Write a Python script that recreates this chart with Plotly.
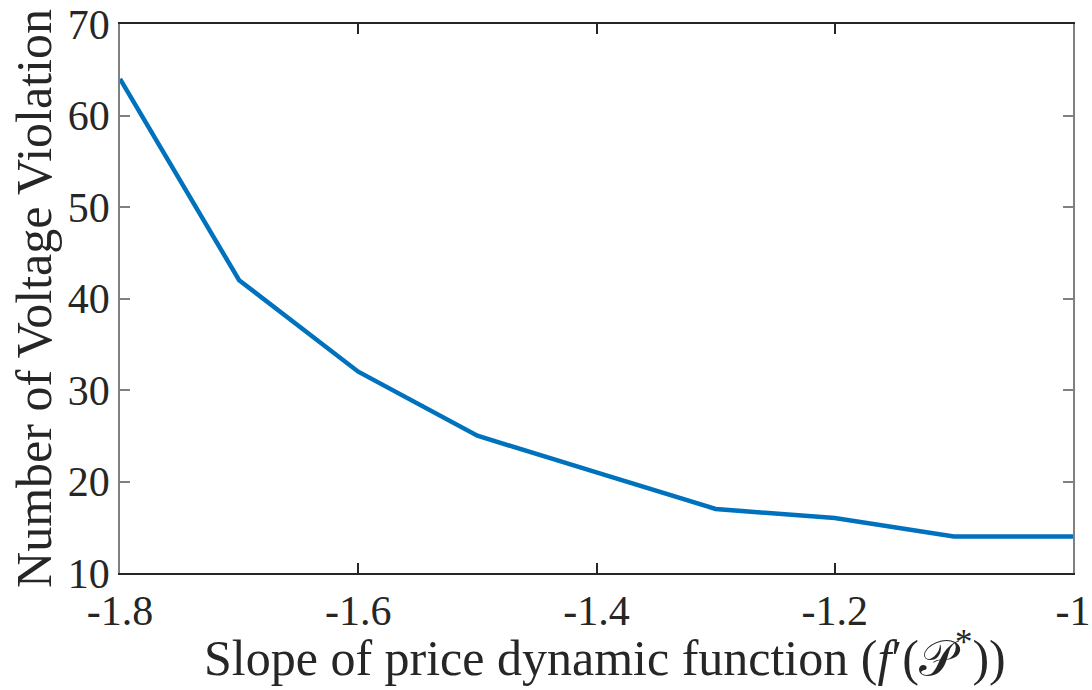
import plotly.graph_objects as go

slopes = [-1.8, -1.7, -1.6, -1.5, -1.4, -1.3, -1.2, -1.1, -1.0]
violations = [64, 42, 32, 25, 21, 17, 16, 14, 14]

x_tickvals = [-1.8, -1.6, -1.4, -1.2, -1.0]
x_ticktext = ["-1.8", "-1.6", "-1.4", "-1.2", "-1"]
y_tickvals = [10, 20, 30, 40, 50, 60, 70]
y_ticktext = ["10", "20", "30", "40", "50", "60", "70"]

x_title = "Slope of price dynamic function (<i>f</i>′(𝒫<sup>*</sup>))"
y_title = "Number of Voltage Violation"

FONT = "Liberation Serif"
TICK_SIZE = 42
TITLE_SIZE = 50

fig = go.Figure()
fig.add_trace(go.Scatter(
    x=slopes, y=violations, mode="lines",
    line=dict(color="#0072BD", width=4.5),
    showlegend=False,
))

fig.update_layout(
    width=1092, height=690,
    margin=dict(l=120, r=19, t=24, b=117),
    paper_bgcolor="white", plot_bgcolor="white",
    font=dict(family=FONT, size=TICK_SIZE, color="#262626"),
)
fig.update_xaxes(
    range=[-1.8, -1.0], tickvals=x_tickvals, ticktext=x_ticktext,
    showgrid=False, zeroline=False, automargin=False,
    showline=True, linecolor="#262626", linewidth=1.5, mirror="ticks",
    ticks="inside", ticklen=10, tickwidth=1.5, tickcolor="#262626",
    tickfont=dict(family=FONT, size=TICK_SIZE, color="#262626"),
)
fig.update_yaxes(
    range=[10, 70], tickvals=y_tickvals, ticktext=y_ticktext,
    showgrid=False, zeroline=False, automargin=False,
    showline=True, linecolor="#808080", linewidth=1.5, mirror="ticks",
    ticks="inside", ticklen=10, tickwidth=1.5, tickcolor="#808080",
    tickfont=dict(family=FONT, size=TICK_SIZE, color="#262626"),
    title=dict(text=y_title,
               font=dict(family=FONT, size=TITLE_SIZE, color="#262626"), standoff=0),
)
fig.add_annotation(
    text=x_title, xref="paper", yref="paper", x=0.5, y=0,
    xanchor="center", yanchor="top", xshift=8, yshift=-48, showarrow=False,
    font=dict(family=FONT, size=TITLE_SIZE, color="#262626"),
)

fig.write_html("out.html")
